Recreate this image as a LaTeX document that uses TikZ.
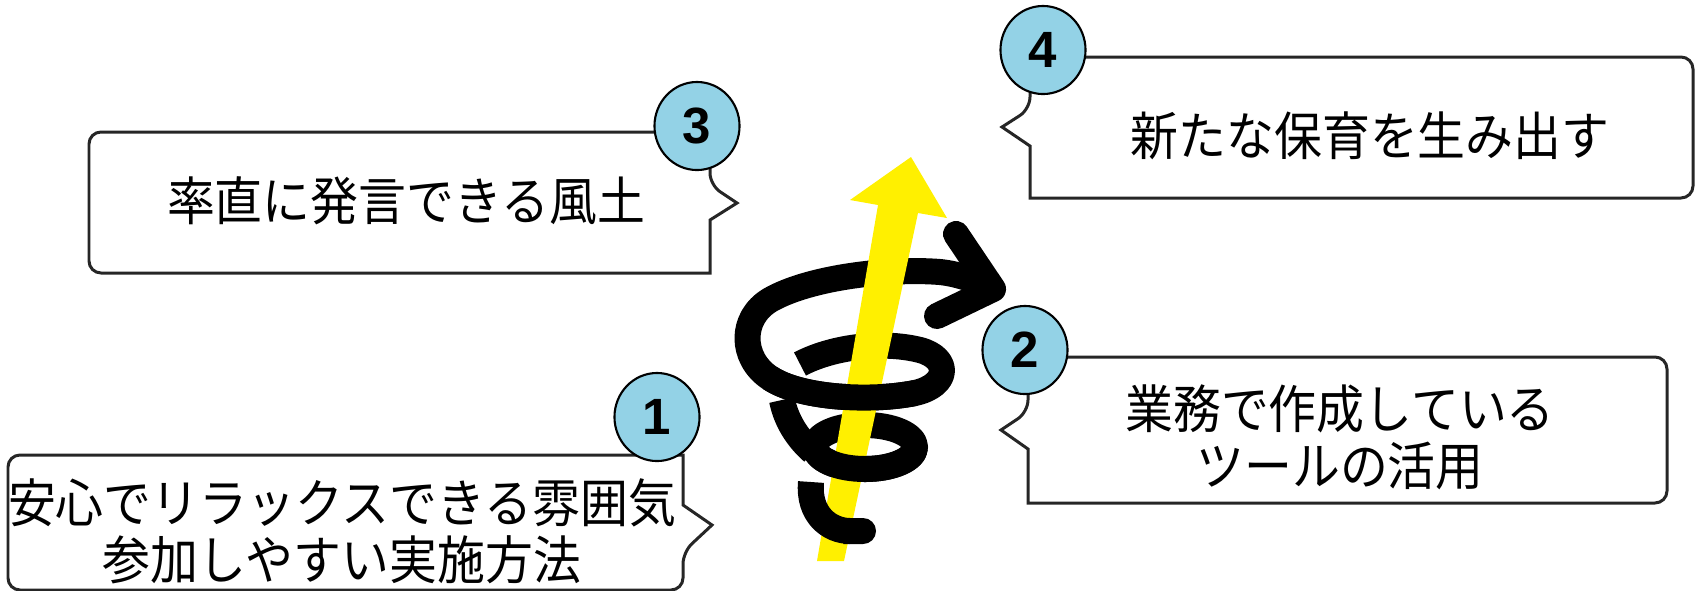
\documentclass[tikz,border=0pt]{standalone}
\usepackage{fontspec}
\setmainfont{Liberation Sans}
\newfontfamily\jpfont[FakeStretch=0.92]{Noto Sans CJK JP}
\usetikzlibrary{positioning,shapes.geometric,arrows.meta}
\definecolor{N}{RGB}{147,210,230}
\definecolor{Y}{RGB}{255,240,0}
\tikzstyle{callout} = [draw=black!85, line width=0.85pt, fill=white]
\tikzstyle{num} = [ellipse, draw=black, line width=0.6pt, fill=N,
minimum width=0.85cm, minimum height=0.88cm, inner sep=0pt,
font=\fontsize{14.5pt}{14.5pt}\selectfont\bfseries]
\tikzstyle{txt} = [align=center, inner sep=0pt, font=\jpfont\fontsize{14.8pt}{16.2pt}\selectfont]
\tikzstyle{spiral} = [line width=0.26cm, line join=round]

\begin{document}
\begin{tikzpicture}[x=0.01cm, y=-0.01cm]
    \useasboundingbox (0,0) rectangle (1706,590);

    % callouts
    \draw[callout] (712,525) -- (683,505) -- (683,455) [rounded corners=0.12cm] -- (8,455) -- (8,590) -- (683,590) -- (683,552) [sharp corners] -- cycle;
    \draw[callout] (737,203) -- (710,220) -- (710,273) [rounded corners=0.12cm] -- (89,273) -- (89,132) -- (710,132) -- (710,185) [sharp corners] -- cycle;
    \draw[callout] (1002,127) -- (1030,146) -- (1030,198) [rounded corners=0.12cm] -- (1693,198) -- (1693,57) -- (1030,57) -- (1030,109) [sharp corners] -- cycle;
    \draw[callout] (1001,430) -- (1028,449) -- (1028,503) [rounded corners=0.12cm] -- (1667,503) -- (1667,357) -- (1028,357) -- (1028,412) [sharp corners] -- cycle;

    \node[num] (n1) at (657,417) {1};
    \node[num] (n2) at (1025,350) {2};
    \node[num] (n3) at (697,126) {3};
    \node[num] (n4) at (1043,50) {4};

    \node[txt] (t1) at (342,531) {安心でリラックスできる雰囲気\\参加しやすい実施方法};
    \node[txt] (t2) at (1340,437) {業務で作成している\\ツールの活用};
    \node[txt] (t3) at (406,201) {率直に発言できる風土};
    \node[txt] (t4) at (1370,136) {新たな保育を生み出す};

    % spiral, back
    \draw[spiral] (865,447) ellipse [x radius=50, y radius=22];
    \draw[spiral] (813,452) .. controls (797,438) and (786,420) .. (782,400);
    \draw[spiral] (800,364) .. controls (830,348) and (880,340) .. (920,350)
        .. controls (950,358) and (950,385) .. (915,393)
        .. controls (870,402) and (800,398) .. (770,378)
        .. controls (740,358) and (740,318) .. (770,300)
        .. controls (810,277) and (890,268) .. (940,272)
        .. controls (960,274) and (980,282) .. (993,289);
    \draw[spiral, line cap=round] (956,234) -- (993,289) -- (937,316);

    % arrow
    \fill[Y] (817,561) -- (878,205) -- (850,200) -- (911,157) -- (947,218) -- (918,213) -- (844,561) -- cycle;

    % spiral, front
    \draw[spiral] (915,447) .. controls (915,459) and (893,469) .. (865,469)
        .. controls (837,469) and (815,459) .. (815,447);
    \draw[spiral] (915,393) .. controls (870,402) and (800,398) .. (770,378);
    \draw[spiral, -{Round Cap}] (811,482) .. controls (808,515) and (830,531) .. (876,531);
\end{tikzpicture}
\end{document}
